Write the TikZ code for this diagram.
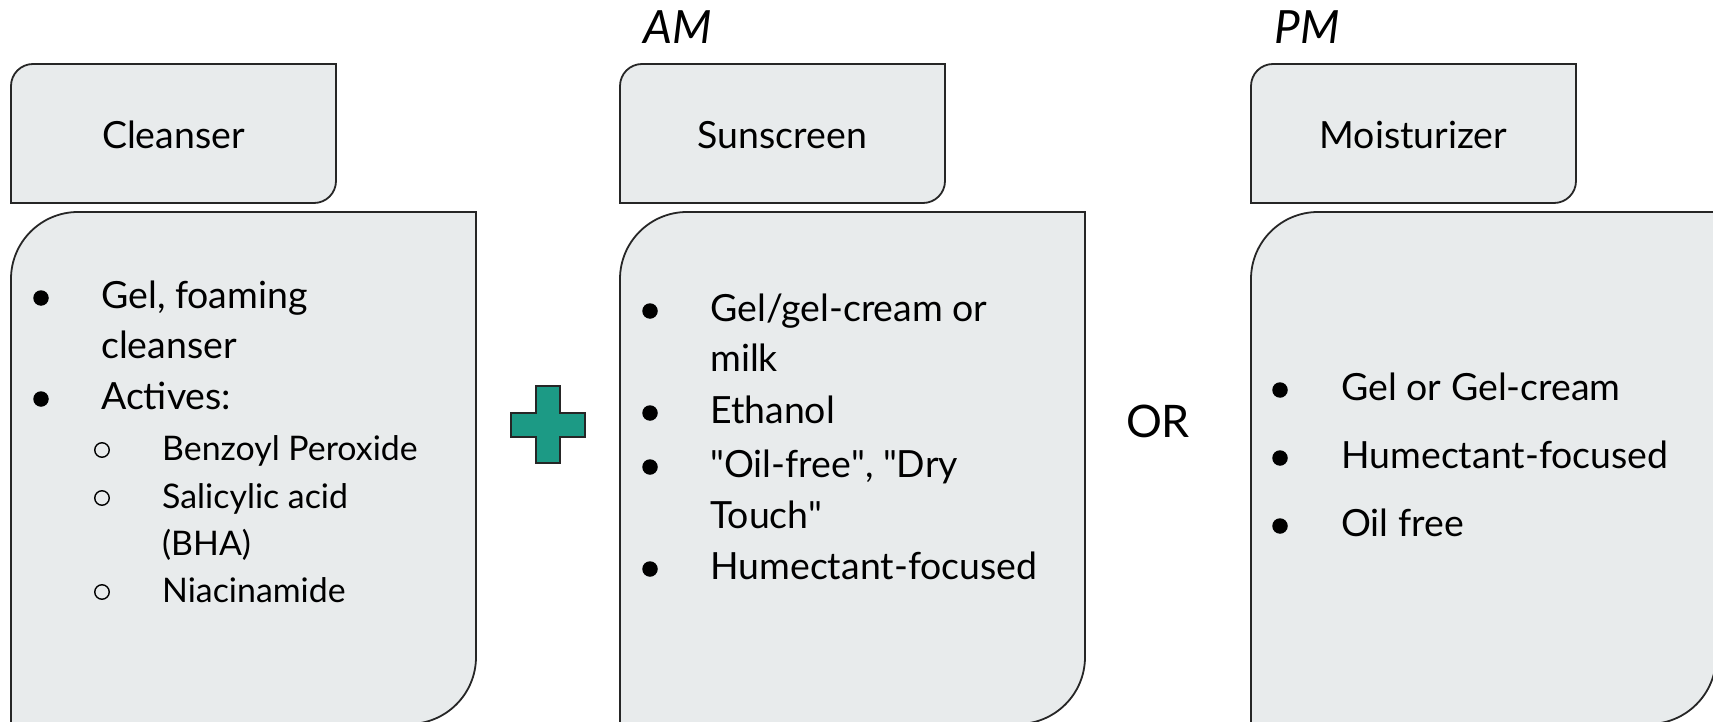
\documentclass[tikz,border=0pt]{standalone}
\usepackage{fontspec}
\setmainfont{Lato}
\newfontfamily\quotefont{Lato}[Ligatures=TeXOff]
\usepackage{tikz}
\definecolor{cardfill}{HTML}{E8EBEC}
\definecolor{cardline}{HTML}{262626}
\definecolor{plusgreen}{HTML}{1C9A85}
\newcommand\sq{{\quotefont\char34}}

\begin{document}
\begin{tikzpicture}[x=1bp,y=-1bp,
  card/.style={fill=cardfill, draw=cardline, line width=1.8bp},
  hdrtext/.style={font=\fontsize{37.6}{45}\selectfont, inner sep=0pt},
  itemtext/.style={font=\fontsize{37.6}{45}\selectfont, anchor=base west, inner sep=0pt},
  subtext/.style={font=\fontsize{34}{40}\selectfont, anchor=base west, inner sep=0pt},
  daytext/.style={font=\fontsize{46}{50}\selectfont\itshape, inner sep=0pt},
  dot/.style={circle, fill=black, inner sep=0pt, minimum size=15.5bp},
  ring/.style={circle, draw=black, line width=1.4bp, inner sep=0pt, minimum size=14.5bp}]
\useasboundingbox (0,0) rectangle (1713,722);
\clip (0,0) rectangle (1713,722);

% cards: small header tab and big body
\foreach \cx/\cname [count=\i] in {11/Cleanser, 620/Sunscreen, 1251/Moisturizer} {
  \draw[card] (\cx,203) -- (\cx,86) arc[start angle=180, end angle=270, radius=22]
    -- (\cx+325,64) -- (\cx+325,181) arc[start angle=0, end angle=90, radius=22] -- cycle;
  \draw[card] (\cx,724) -- (\cx,279) arc[start angle=180, end angle=270, radius=67]
    -- (\cx+465,212) -- (\cx+465,657) arc[start angle=0, end angle=90, radius=67] -- cycle;
  \node[hdrtext] (hdr\i) at (\cx+162.5,135) {\cname};
}

% AM / PM labels and OR
\node[daytext] (am) at (678,27) {AM};
\node[daytext] (pm) at (1307,27) {PM};
\node[font=\fontsize{45}{50}\selectfont, inner sep=0pt] (or) at (1158,421) {OR};

% plus sign
\draw[fill=plusgreen, draw=cardline, line width=1.8bp] (536,386) -- (560,386) -- (560,413)
  -- (585,413) -- (585,437) -- (560,437) -- (560,463) -- (536,463) -- (536,437)
  -- (511,437) -- (511,413) -- (536,413) -- cycle;

% cleanser list
\node[dot] (cb1) at (41,298) {};
\node[itemtext] (ci1) at (101,308) {Gel, foaming};
\node[itemtext] (ci1b) at (101,358) {cleanser};
\node[dot] (cb2) at (41,399) {};
\node[itemtext] (ci2) at (101,409) {Actives:};
\node[ring] (cr1) at (102,450) {};
\node[subtext] (cs1) at (162,460) {Benzoyl Peroxide};
\node[ring] (cr2) at (102,498) {};
\node[subtext] (cs2) at (162,508) {Salicylic acid};
\node[subtext] (cs2b) at (162,555) {(BHA)};
\node[ring] (cr3) at (102,592) {};
\node[subtext] (cs3) at (162,602) {Niacinamide};

% sunscreen list
\node[dot] (sb1) at (650,311) {};
\node[itemtext] (si1) at (710,321) {Gel/gel-cream or};
\node[itemtext] (si1b) at (710,371) {milk};
\node[dot] (sb2) at (650,413) {};
\node[itemtext] (si2) at (710,423) {Ethanol};
\node[dot] (sb3) at (650,467) {};
\node[itemtext] (si3) at (710,477) {\sq Oil-free\sq, \sq Dry};
\node[itemtext] (si3b) at (710,528) {Touch\sq};
\node[dot] (sb4) at (650,569) {};
\node[itemtext] (si4) at (710,579) {Humectant-focused};

% moisturizer list
\foreach \y/\t [count=\j] in {390/Gel or Gel-cream, 458/Humectant-focused, 526/Oil free} {
  \node[dot] (mb\j) at (1280,\y) {};
  \node[itemtext] (mi\j) at (1341,\y+10) {\t};
}
\end{tikzpicture}
\end{document}
